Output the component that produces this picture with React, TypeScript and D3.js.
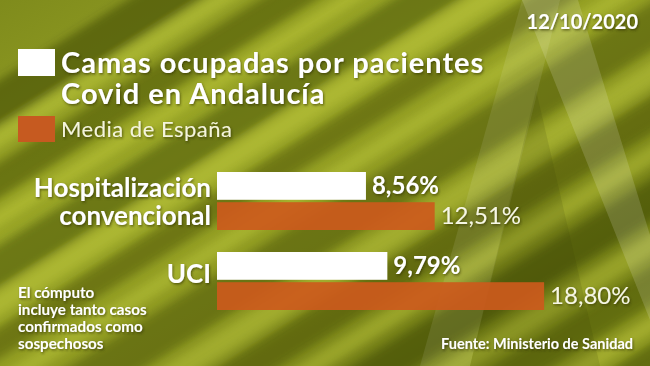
import React from 'react';
import * as d3 from 'd3';

const W = 650;
const H = 366;

// data
const categories = ['Hospitalización convencional', 'UCI'];
const categoryLines = [['Hospitalización', 'convencional'], ['UCI']];
const andaluciaValues = [8.56, 9.79];
const espanaValues = [12.51, 18.8];
const seriesNames = ['Camas ocupadas por pacientes', 'Covid en Andalucía', 'Media de España'];
const dateLabel = '12/10/2020';
const noteLines = ['El cómputo', 'incluye tanto casos', 'confirmados como', 'sospechosos'];
const sourceLabel = 'Fuente: Ministerio de Sanidad';

// background streaks: [offset, thickness, colour, opacity]
const streaks: [number, number, string, number][] = [
  [-260, 40, '#3a4306', 0.55],
  [-220, 18, '#c8d23e', 0.45],
  [-190, 30, '#414a08', 0.5],
  [-150, 14, '#c4ce3c', 0.45],
  [-120, 36, '#373f05', 0.45],
  [-80, 20, '#cbd443', 0.4],
  [-50, 26, '#3f4808', 0.45],
  [-10, 16, '#c6cf40', 0.4],
  [20, 40, '#394206', 0.4],
  [70, 22, '#c9d244', 0.4],
  [100, 30, '#3f4808', 0.45],
  [140, 18, '#c2cc3a', 0.45],
  [170, 34, '#384106', 0.5],
  [215, 20, '#c8d142', 0.4],
  [245, 30, '#414a09', 0.45],
  [285, 16, '#c4cd3e', 0.45],
  [310, 36, '#3a4307', 0.5],
];

const fmt = d3.formatLocale({ decimal: ',', thousands: '.', grouping: [3], currency: ['', '€'] }).format('.2f');

const x = d3.scaleLinear().domain([0, 20]).range([217, 565]);
const yGroup = d3.scaleBand<string>().domain(categories).range([172, 332]);
const ySeries = d3.scaleBand<string>().domain(['and', 'esp']).range([0, 58]).paddingInner(0.08);

const font = 'Lato, "Open Sans", sans-serif';

export default function App() {
  return (
    <svg width={W} height={H} style={{ position: 'absolute', left: 0, top: 0 }} fontFamily={font}>
      <defs>
        <linearGradient id="bg" x1="0" y1="0" x2="1" y2="1">
          <stop offset="0" stopColor="#7f8b1c" />
          <stop offset="0.35" stopColor="#9aa626" />
          <stop offset="0.6" stopColor="#8a951f" />
          <stop offset="0.8" stopColor="#6f7a15" />
          <stop offset="1" stopColor="#8d991f" />
        </linearGradient>
        <filter id="blur" x="-10%" y="-10%" width="120%" height="120%">
          <feGaussianBlur stdDeviation="4" />
        </filter>
        <filter id="shadow" x="-10%" y="-30%" width="120%" height="160%">
          <feDropShadow dx="1" dy="1.5" stdDeviation="1.2" floodColor="#2a2f05" floodOpacity="0.6" />
        </filter>
      </defs>

      <rect width={W} height={H} fill="url(#bg)" />
      <g filter="url(#blur)" transform={`rotate(-32 ${W / 2} ${H / 2})`}>
        {streaks.map(([o, t, c, op], i) => (
          <rect key={i} x={-300} y={H / 2 + o} width={W + 600} height={t} fill={c} opacity={op} />
        ))}
      </g>
      {/* big translucent "A" */}
      <polygon points="522,0 578,0 650,235 650,320" fill="#ffffff" opacity={0.15} />
      <polygon points="522,0 560,0 470,366 420,366" fill="#ffffff" opacity={0.09} />
      <polygon points="536,90 470,366 600,366" fill="#3a4306" opacity={0.14} />

      {/* legend */}
      <rect x={18} y={49} width={37} height={27} fill="#ffffff" />
      <rect x={18} y={116} width={37} height={26} fill="#c65a20" />
      <g fill="#ffffff" filter="url(#shadow)">
        <text x={61} y={73} fontSize={29} fontWeight={700} letterSpacing={1}>{seriesNames[0]}</text>
        <text x={61} y={104} fontSize={29} fontWeight={700} letterSpacing={1}>{seriesNames[1]}</text>
        <text x={61} y={137} fontSize={22} fontWeight={400} letterSpacing={0.5} fill="#f4f4dc">{seriesNames[2]}</text>
        <text x={638} y={29} fontSize={20} fontWeight={700} textAnchor="end">{dateLabel}</text>
      </g>

      {/* bars */}
      {categories.map((c, i) => {
        const gy = yGroup(c)!;
        const lines = categoryLines[i];
        const ya = gy + ySeries('and')!;
        const ye = gy + ySeries('esp')!;
        const bh = ySeries.bandwidth();
        const labelY = lines.length === 2 ? [gy + 25, gy + 53] : [gy + 31];
        return (
          <g key={c}>
            <rect x={x(0)} y={ya} width={x(andaluciaValues[i]) - x(0)} height={bh} fill="#ffffff" />
            <rect x={x(0)} y={ye} width={x(espanaValues[i]) - x(0)} height={bh} fill="#cc5a1c" opacity={0.92} />
            <g fill="#ffffff" filter="url(#shadow)">
              {lines.map((l, j) => (
                <text key={j} x={211} y={labelY[j]} textAnchor="end" fontSize={26} fontWeight={700}>{l}</text>
              ))}
              <text x={x(andaluciaValues[i]) + 6} y={ya + bh - 6} fontSize={24} fontWeight={700}>{fmt(andaluciaValues[i])}%</text>
              <text x={x(espanaValues[i]) + 6} y={ye + bh - 6} fontSize={24} fontWeight={400} fill="#f6f6e4">{fmt(espanaValues[i])}%</text>
            </g>
          </g>
        );
      })}

      {/* footnotes */}
      <g fill="#ffffff" filter="url(#shadow)" fontWeight={700}>
        {noteLines.map((l, i) => (
          <text key={i} x={18} y={298 + i * 17} fontSize={15.2}>{l}</text>
        ))}
        <text x={633} y={349} fontSize={14.5} textAnchor="end">{sourceLabel}</text>
      </g>
    </svg>
  );
}
